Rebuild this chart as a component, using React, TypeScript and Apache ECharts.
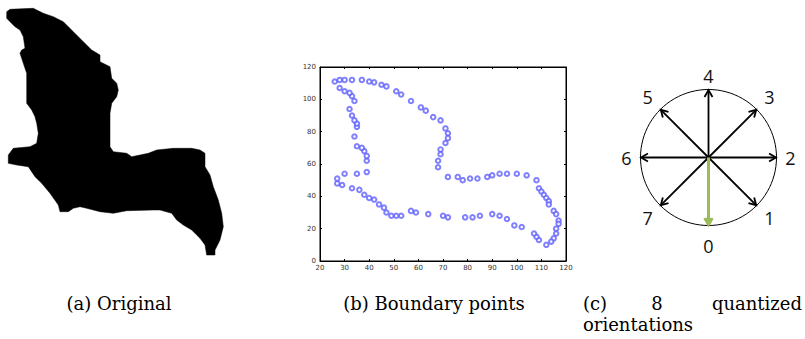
import React, { useEffect, useRef } from "react";
import * as echarts from "echarts";

// (b) Boundary points — x values and y values
const boundaryX = [
  26, 28, 30, 33, 37, 40, 42, 45, 47, 51, 53, 57, 61, 63, 66, 69, 71, 72, 72, 71, 69, 69, 68, 68,
  72, 76, 78, 81, 84, 88, 90, 93, 96, 100, 104, 108, 109, 110, 111, 112, 113, 113, 115, 116, 117, 117,
  116, 116, 115, 114, 112, 109, 108, 107, 102, 99, 96, 93, 90, 85, 82, 79, 72, 70, 64, 59, 57, 53, 51, 49,
  47, 46, 44, 42, 40, 38, 36, 33, 29, 27, 27, 30, 35, 39, 39, 39, 38, 37, 35, 34, 35, 35, 34, 33, 32, 34,
  33, 32, 30, 28,
];
const boundaryY = [
  111, 112, 112, 112, 112, 111, 110.5, 109, 108, 105, 103, 99, 95, 93, 89, 87, 82, 79, 76, 73, 69, 66, 62, 58,
  52, 52, 50, 51, 51, 52, 53, 54, 54, 54, 53, 50, 45, 43, 41, 39, 37, 35, 31, 29, 25, 23,
  20, 17, 14, 12, 10, 13, 15, 17, 21, 22, 26, 28, 29, 28, 27, 27, 27, 28, 29, 30, 31, 28, 28, 28,
  30, 33, 35, 38, 39, 41, 44, 45, 47, 48, 51, 54, 54, 55, 62, 65, 68, 70, 71, 77, 83, 85, 87, 90, 94, 99,
  102, 104, 105, 107,
];

// axis ranges
const xRange = [20, 120];
const yRange = [0, 120];

// (c) orientation labels, index = direction code
const orientationLabels = ["0", "1", "2", "3", "4", "5", "6", "7"];

// (a) silhouette outline (image pixels)
const blobOutline: number[][] = [
  [6.7, 11.7], [10, 9.3], [33.3, 8.3], [43.3, 13.3], [53.3, 16.7], [63.3, 21.7], [73.3, 31.7], [83.3, 41.7],
  [91.7, 50], [100, 55], [100, 61.7], [110, 66.7], [111.7, 78.3], [116.7, 83.3], [118.3, 90], [116.7, 96.7],
  [111.7, 103.3], [110, 113.3], [110, 146.7], [113.3, 151.7], [126.7, 153.3], [131.7, 156.7], [140, 155],
  [148.3, 153.3], [156.7, 150], [173.3, 148.3], [191.7, 148.3], [200, 150], [205, 153.3], [205, 166.7],
  [210, 175], [213.3, 186.7], [218.3, 200], [221.7, 213.3], [223.3, 226.7], [220, 240], [215, 250],
  [215, 255], [206.7, 255], [205, 245], [200, 238.3], [191.7, 230], [183.3, 225], [176.7, 220],
  [171.7, 213.3], [160, 210], [153.3, 210], [126.7, 210.7], [113.3, 213.3], [100, 211.7], [86.7, 208.3],
  [80, 206.7], [73.3, 208.3], [68.3, 211.7], [60, 211.7], [58.3, 205], [50, 193.3], [41.7, 183.3],
  [35, 176.7], [28.3, 166.7], [16.7, 165], [8.3, 163.3], [8.3, 155], [13.3, 148.3], [30, 146.7],
  [36.7, 143.3], [38.3, 133.3], [36.7, 123.3], [35, 116.7], [31.7, 110], [26.7, 103.3], [26.7, 90],
  [26.7, 73.3], [23.3, 63.3], [20, 53.3], [21.7, 50], [25, 48.3], [23.3, 36.7], [20, 30], [15, 26.7],
  [10, 21.7], [6.7, 18.3],
];

const captionA = "(a) Original";
const captionB = "(b) Boundary points";

export default function App() {
  const ref = useRef<HTMLDivElement>(null);
  useEffect(() => {
    if (!ref.current) return;
    const chart = echarts.init(ref.current, null, { renderer: "svg" });

    const scatterData = boundaryX.map((x, i) => [x, boundaryY[i]]);

    const capFont = "18px 'DejaVu Serif', serif";
    const cx = 708.5;
    const cy = 157.5;
    const R = 68;
    const graphics: any[] = [];
    graphics.push({
      type: "polygon",
      shape: { points: blobOutline },
      style: { fill: "#000", stroke: "#000", lineWidth: 0.5 },
    });
    graphics.push({
      type: "circle",
      shape: { cx, cy, r: R },
      style: { fill: "none", stroke: "#000", lineWidth: 1 },
    });
    orientationLabels.forEach((lab, k) => {
      const ang = -Math.PI / 2 + (k * Math.PI) / 4;
      const dx = Math.cos(ang);
      const dy = -Math.sin(ang);
      const green = k === 0;
      const color = green ? "#9bbb59" : "#000";
      const lw = green ? 3 : 1.8;
      const tipX = cx + dx * (R - 0.5);
      const tipY = cy + dy * (R - 0.5);
      const hl = 8;
      const ha = Math.PI / 6;
      const bx = -dx;
      const by = -dy;
      const p1 = [
        tipX + hl * (bx * Math.cos(ha) - by * Math.sin(ha)),
        tipY + hl * (bx * Math.sin(ha) + by * Math.cos(ha)),
      ];
      const p2 = [
        tipX + hl * (bx * Math.cos(-ha) - by * Math.sin(-ha)),
        tipY + hl * (bx * Math.sin(-ha) + by * Math.cos(-ha)),
      ];
      graphics.push({
        type: "line",
        z: green ? 20 : 10,
        shape: { x1: cx, y1: cy, x2: tipX - dx * 1.5, y2: tipY - dy * 1.5 },
        style: { stroke: color, lineWidth: lw },
      });
      graphics.push({
        type: "polyline",
        z: green ? 20 : 10,
        shape: { points: [p1, [tipX, tipY], p2] },
        style: { stroke: color, lineWidth: green ? 2.5 : 1.8, fill: green ? color : "none" },
      });
      const lr = k % 2 === 0 ? (k === 0 ? 88 : 82) : 86;
      graphics.push({
        type: "text",
        x: cx + dx * lr,
        y: cy + dy * lr,
        style: {
          text: lab,
          font: "18px 'Open Sans', Lato, sans-serif",
          fill: "#111",
          align: "center",
          verticalAlign: "middle",
        },
      });
    });
    const cap = (text: string, x: number, y: number, align: string) => ({
      type: "text",
      x,
      y,
      style: { text, font: capFont, fill: "#000", align, verticalAlign: "middle" },
    });
    graphics.push(cap(captionA, 119, 303, "center"));
    graphics.push(cap(captionB, 434, 303, "center"));
    graphics.push(cap("(c)", 583, 303, "left"));
    graphics.push(cap("8", 657, 303, "center"));
    graphics.push(cap("quantized", 802, 303, "right"));
    graphics.push(cap("orientations", 583, 324, "left"));

    const axisLabel = { fontSize: 7, color: "#333", fontFamily: "'DejaVu Sans', sans-serif", margin: 4 };
    const tick = { inside: true, length: 2, lineStyle: { color: "#000" } };
    const line = { onZero: false, lineStyle: { color: "#000", width: 1 } };
    chart.setOption({
      animation: false,
      backgroundColor: "#fff",
      grid: {
        left: 320,
        top: 67,
        width: 246,
        height: 194,
        show: true,
        borderColor: "#000",
        borderWidth: 1,
      },
      xAxis: [
        {
          type: "value", min: xRange[0], max: xRange[1], interval: 10,
          axisLine: line, axisTick: tick, splitLine: { show: false },
          axisLabel: { ...axisLabel, margin: 3 },
        },
        {
          type: "value", position: "top", min: xRange[0], max: xRange[1], interval: 10,
          axisLine: line, axisTick: tick, splitLine: { show: false }, axisLabel: { show: false },
        },
      ],
      yAxis: [
        {
          type: "value", min: yRange[0], max: yRange[1], interval: 20,
          axisLine: line, axisTick: tick, splitLine: { show: false }, axisLabel,
        },
        {
          type: "value", position: "right", min: yRange[0], max: yRange[1], interval: 20,
          axisLine: line, axisTick: tick, splitLine: { show: false }, axisLabel: { show: false },
        },
      ],
      series: [
        {
          type: "scatter",
          xAxisIndex: 0,
          yAxisIndex: 0,
          data: scatterData,
          symbol: "emptyCircle",
          symbolSize: 4.5,
          itemStyle: { color: "#6060ff", borderColor: "#6060ff", borderWidth: 1 },
        },
      ],
      graphic: graphics,
    });
    return () => chart.dispose();
  }, []);
  return (
    <div
      ref={ref}
      style={{ position: "fixed", left: 0, top: 0, width: 805, height: 339, background: "#fff" }}
    />
  );
}
